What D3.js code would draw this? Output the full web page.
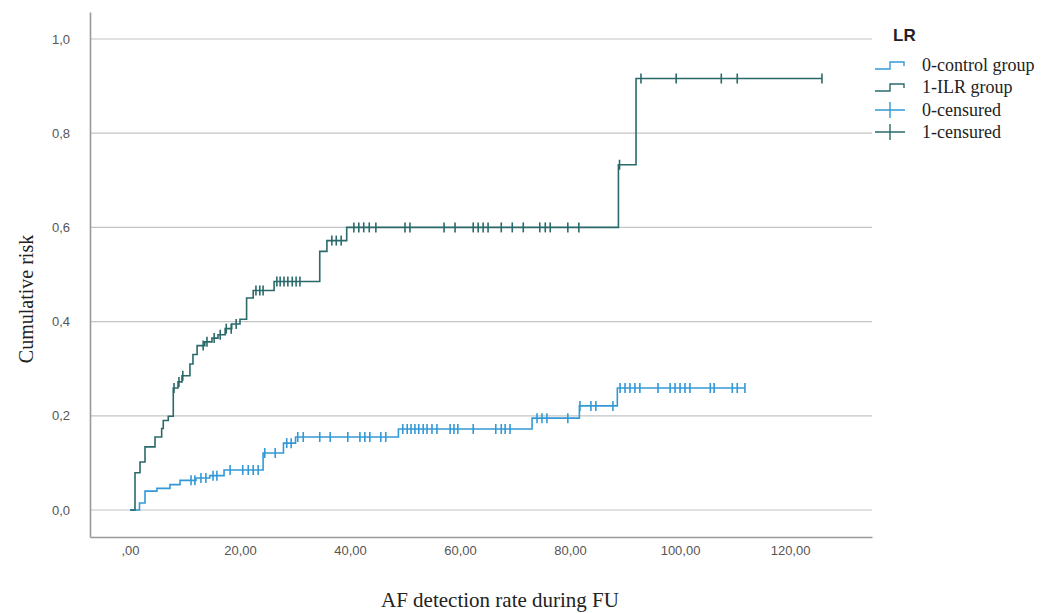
<!DOCTYPE html>
<html>
<head>
<meta charset="utf-8">
<script src="https://cdn.jsdelivr.net/npm/d3@7"></script>
<style>
  body { margin: 0; background: #fff; }
  svg { display: block; }
</style>
</head>
<body>
<div id="chart"></div>
<script>
// ILR group: event times and cumulative risk after each step
const ilrTimes = [0.91, 1.82, 2.73, 4.55, 5.76, 6.05, 6.96, 7.87, 8.73, 9.45, 10.9, 11.45, 12.2, 13.6, 14.9, 16.0, 17.3, 18.5, 20.0, 21.2, 22.4, 26.2, 34.5, 35.8, 39.4, 88.8, 92.0];
const ilrRisk = [0.079, 0.102, 0.134, 0.155, 0.173, 0.19, 0.199, 0.259, 0.272, 0.285, 0.31, 0.33, 0.349, 0.357, 0.365, 0.372, 0.385, 0.395, 0.405, 0.45, 0.466, 0.485, 0.549, 0.572, 0.6, 0.733, 0.916];
const ilrCensored = [8.0, 8.9, 9.6, 13.3, 14.0, 15.3, 16.4, 17.5, 18.4, 19.3, 22.9, 23.6, 24.2, 26.7, 27.3, 28.0, 28.7, 29.5, 30.2, 30.9, 36.7, 37.5, 38.4, 40.7, 41.6, 42.5, 43.5, 44.7, 50.0, 50.9, 57.1, 59.1, 62.4, 63.3, 64.2, 65.1, 67.5, 69.5, 71.5, 74.5, 75.5, 76.4, 79.6, 81.6, 89.0, 92.9, 99.3, 107.5, 110.4, 125.8];

// control group
const ctrlTimes = [1.73, 2.73, 4.9, 7.27, 9.1, 12.0, 14.5, 17.1, 24.2, 27.9, 30.1, 48.8, 73.1, 81.7, 88.6];
const ctrlRisk = [0.015, 0.04, 0.046, 0.054, 0.063, 0.068, 0.073, 0.085, 0.121, 0.142, 0.155, 0.172, 0.195, 0.221, 0.259];
const ctrlCensored = [11.1, 11.8, 12.9, 13.8, 15.1, 15.8, 18.2, 20.5, 21.5, 22.4, 23.3, 24.5, 26.4, 28.5, 29.3, 30.5, 31.5, 34.5, 36.4, 39.6, 41.8, 42.7, 43.6, 45.6, 46.5, 49.6, 50.4, 51.1, 51.8, 52.5, 53.3, 54.0, 54.9, 55.8, 58.2, 58.9, 59.6, 62.4, 66.5, 67.5, 68.2, 69.1, 74.0, 74.9, 75.8, 79.6, 81.8, 83.8, 84.7, 87.8, 89.1, 90.0, 90.9, 91.8, 92.7, 96.0, 98.2, 99.1, 100.0, 100.9, 101.8, 105.5, 106.2, 109.5, 110.4, 111.8];

const xTicks = [0, 20, 40, 60, 80, 100, 120];
const yTicks = [0, 0.2, 0.4, 0.6, 0.8, 1.0];
const legendLabels = ["0-control group", "1-ILR group", "0-censured", "1-censured"];

const ctrlColor = "#3399d6", ilrColor = "#2b6a6a";

const W = 1056, H = 613;
const plot = {left: 90, right: 872, top: 12, bottom: 537};

const svg = d3.select("#chart").append("svg")
    .attr("width", W)
    .attr("height", H);

const x = d3.scaleLinear()
  .domain([-7.27, 134.9])
  .range([plot.left, plot.right]);

const y = d3.scaleLinear()
  .domain([-0.0573, 1.0573])
  .range([plot.bottom, plot.top]);

// gridlines
svg.append("g")
  .selectAll("line")
  .data(yTicks)
  .enter()
  .append("line")
    .attr("x1", plot.left)
    .attr("x2", plot.right)
    .attr("y1", d => y(d))
    .attr("y2", d => y(d))
    .attr("stroke", "#c4c4c4")
    .attr("stroke-width", 1.2);

// Y axis
const fmtY = d => d3.format(".1f")(d).replace(".", ",");
const yAxis = svg.append("g")
  .attr("transform", `translate(${plot.left},0)`)
  .call(d3.axisLeft(y).tickValues(yTicks).tickSize(0).tickPadding(20).tickFormat(fmtY));
yAxis.select(".domain").attr("stroke", "#999").attr("stroke-width", 1.6);
yAxis.selectAll("text")
  .attr("font-family", "Liberation Sans, Arial, sans-serif")
  .attr("font-size", 13)
  .attr("fill", "#555");

// X axis
const fmtX = d => d === 0 ? ",00" : d3.format(".2f")(d).replace(".", ",");
const xAxis = svg.append("g")
  .attr("transform", `translate(0,${plot.bottom})`)
  .call(d3.axisBottom(x).tickValues(xTicks).tickSize(0).tickPadding(9).tickFormat(fmtX));
xAxis.select(".domain").attr("stroke", "#999").attr("stroke-width", 1.6);
xAxis.selectAll("text")
  .attr("font-family", "Liberation Sans, Arial, sans-serif")
  .attr("font-size", 13)
  .attr("fill", "#555");

// axis titles
svg.append("text")
  .attr("x", 500)
  .attr("y", 607)
  .attr("text-anchor", "middle")
  .attr("font-family", "Liberation Serif, Times New Roman, serif")
  .attr("font-size", 21)
  .attr("fill", "#222")
  .text("AF detection rate during FU");

svg.append("text")
  .attr("transform", "translate(33,299) rotate(-90)")
  .attr("text-anchor", "middle")
  .attr("font-family", "Liberation Serif, Times New Roman, serif")
  .attr("font-size", 20)
  .attr("fill", "#222")
  .text("Cumulative risk");

// step curve helpers
function stepPoints(times, risk, end) {
  const pts = [[0, 0]];
  times.forEach((t, i) => pts.push([t, risk[i]]));
  pts.push([end, risk[risk.length - 1]]);
  return pts;
}
function riskAt(times, risk, t) {
  const i = d3.bisectRight(times, t);
  return i === 0 ? 0 : risk[i - 1];
}
const stepLine = d3.line()
  .x(d => x(d[0]))
  .y(d => y(d[1]))
  .curve(d3.curveStepAfter);

function drawGroup(times, risk, censored, color) {
  const end = d3.max(censored);
  svg.append("path")
    .datum(stepPoints(times, risk, end))
    .attr("d", stepLine)
    .attr("fill", "none")
    .attr("stroke", color)
    .attr("stroke-width", 1.6);

  svg.append("g")
    .selectAll("line")
    .data(censored)
    .enter()
    .append("line")
      .attr("x1", d => x(d))
      .attr("x2", d => x(d))
      .attr("y1", d => y(riskAt(times, risk, d)) - 5)
      .attr("y2", d => y(riskAt(times, risk, d)) + 5)
      .attr("stroke", color)
      .attr("stroke-width", 1.6);
}

drawGroup(ctrlTimes, ctrlRisk, ctrlCensored, ctrlColor);
drawGroup(ilrTimes, ilrRisk, ilrCensored, ilrColor);

// legend
const legend = svg.append("g").attr("transform", "translate(875,0)");
legend.append("text")
  .attr("x", 18)
  .attr("y", 41)
  .attr("font-family", "Liberation Sans, Arial, sans-serif")
  .attr("font-weight", "bold")
  .attr("font-size", 17)
  .attr("fill", "#222")
  .text("LR");

const legendColors = [ctrlColor, ilrColor, ctrlColor, ilrColor];
const rowY = [65, 87, 110, 132];

legendLabels.forEach((label, i) => {
  const yy = rowY[i];
  const g = legend.append("g");
  if (i < 2) {
    g.append("path")
      .attr("d", `M0,${yy + 4}H15V${yy - 3}H29V${yy + 1}`)
      .attr("fill", "none")
      .attr("stroke", legendColors[i])
      .attr("stroke-width", 1.4);
  } else {
    g.append("path")
      .attr("d", `M0,${yy}H30M15,${yy - 8}V${yy + 8}`)
      .attr("fill", "none")
      .attr("stroke", legendColors[i])
      .attr("stroke-width", 1.4);
  }
  g.append("text")
    .attr("x", 47)
    .attr("y", yy + 6)
    .attr("font-family", "Liberation Serif, Times New Roman, serif")
    .attr("font-size", 18)
    .attr("fill", "#222")
    .text(label);
});
</script>
</body>
</html>
